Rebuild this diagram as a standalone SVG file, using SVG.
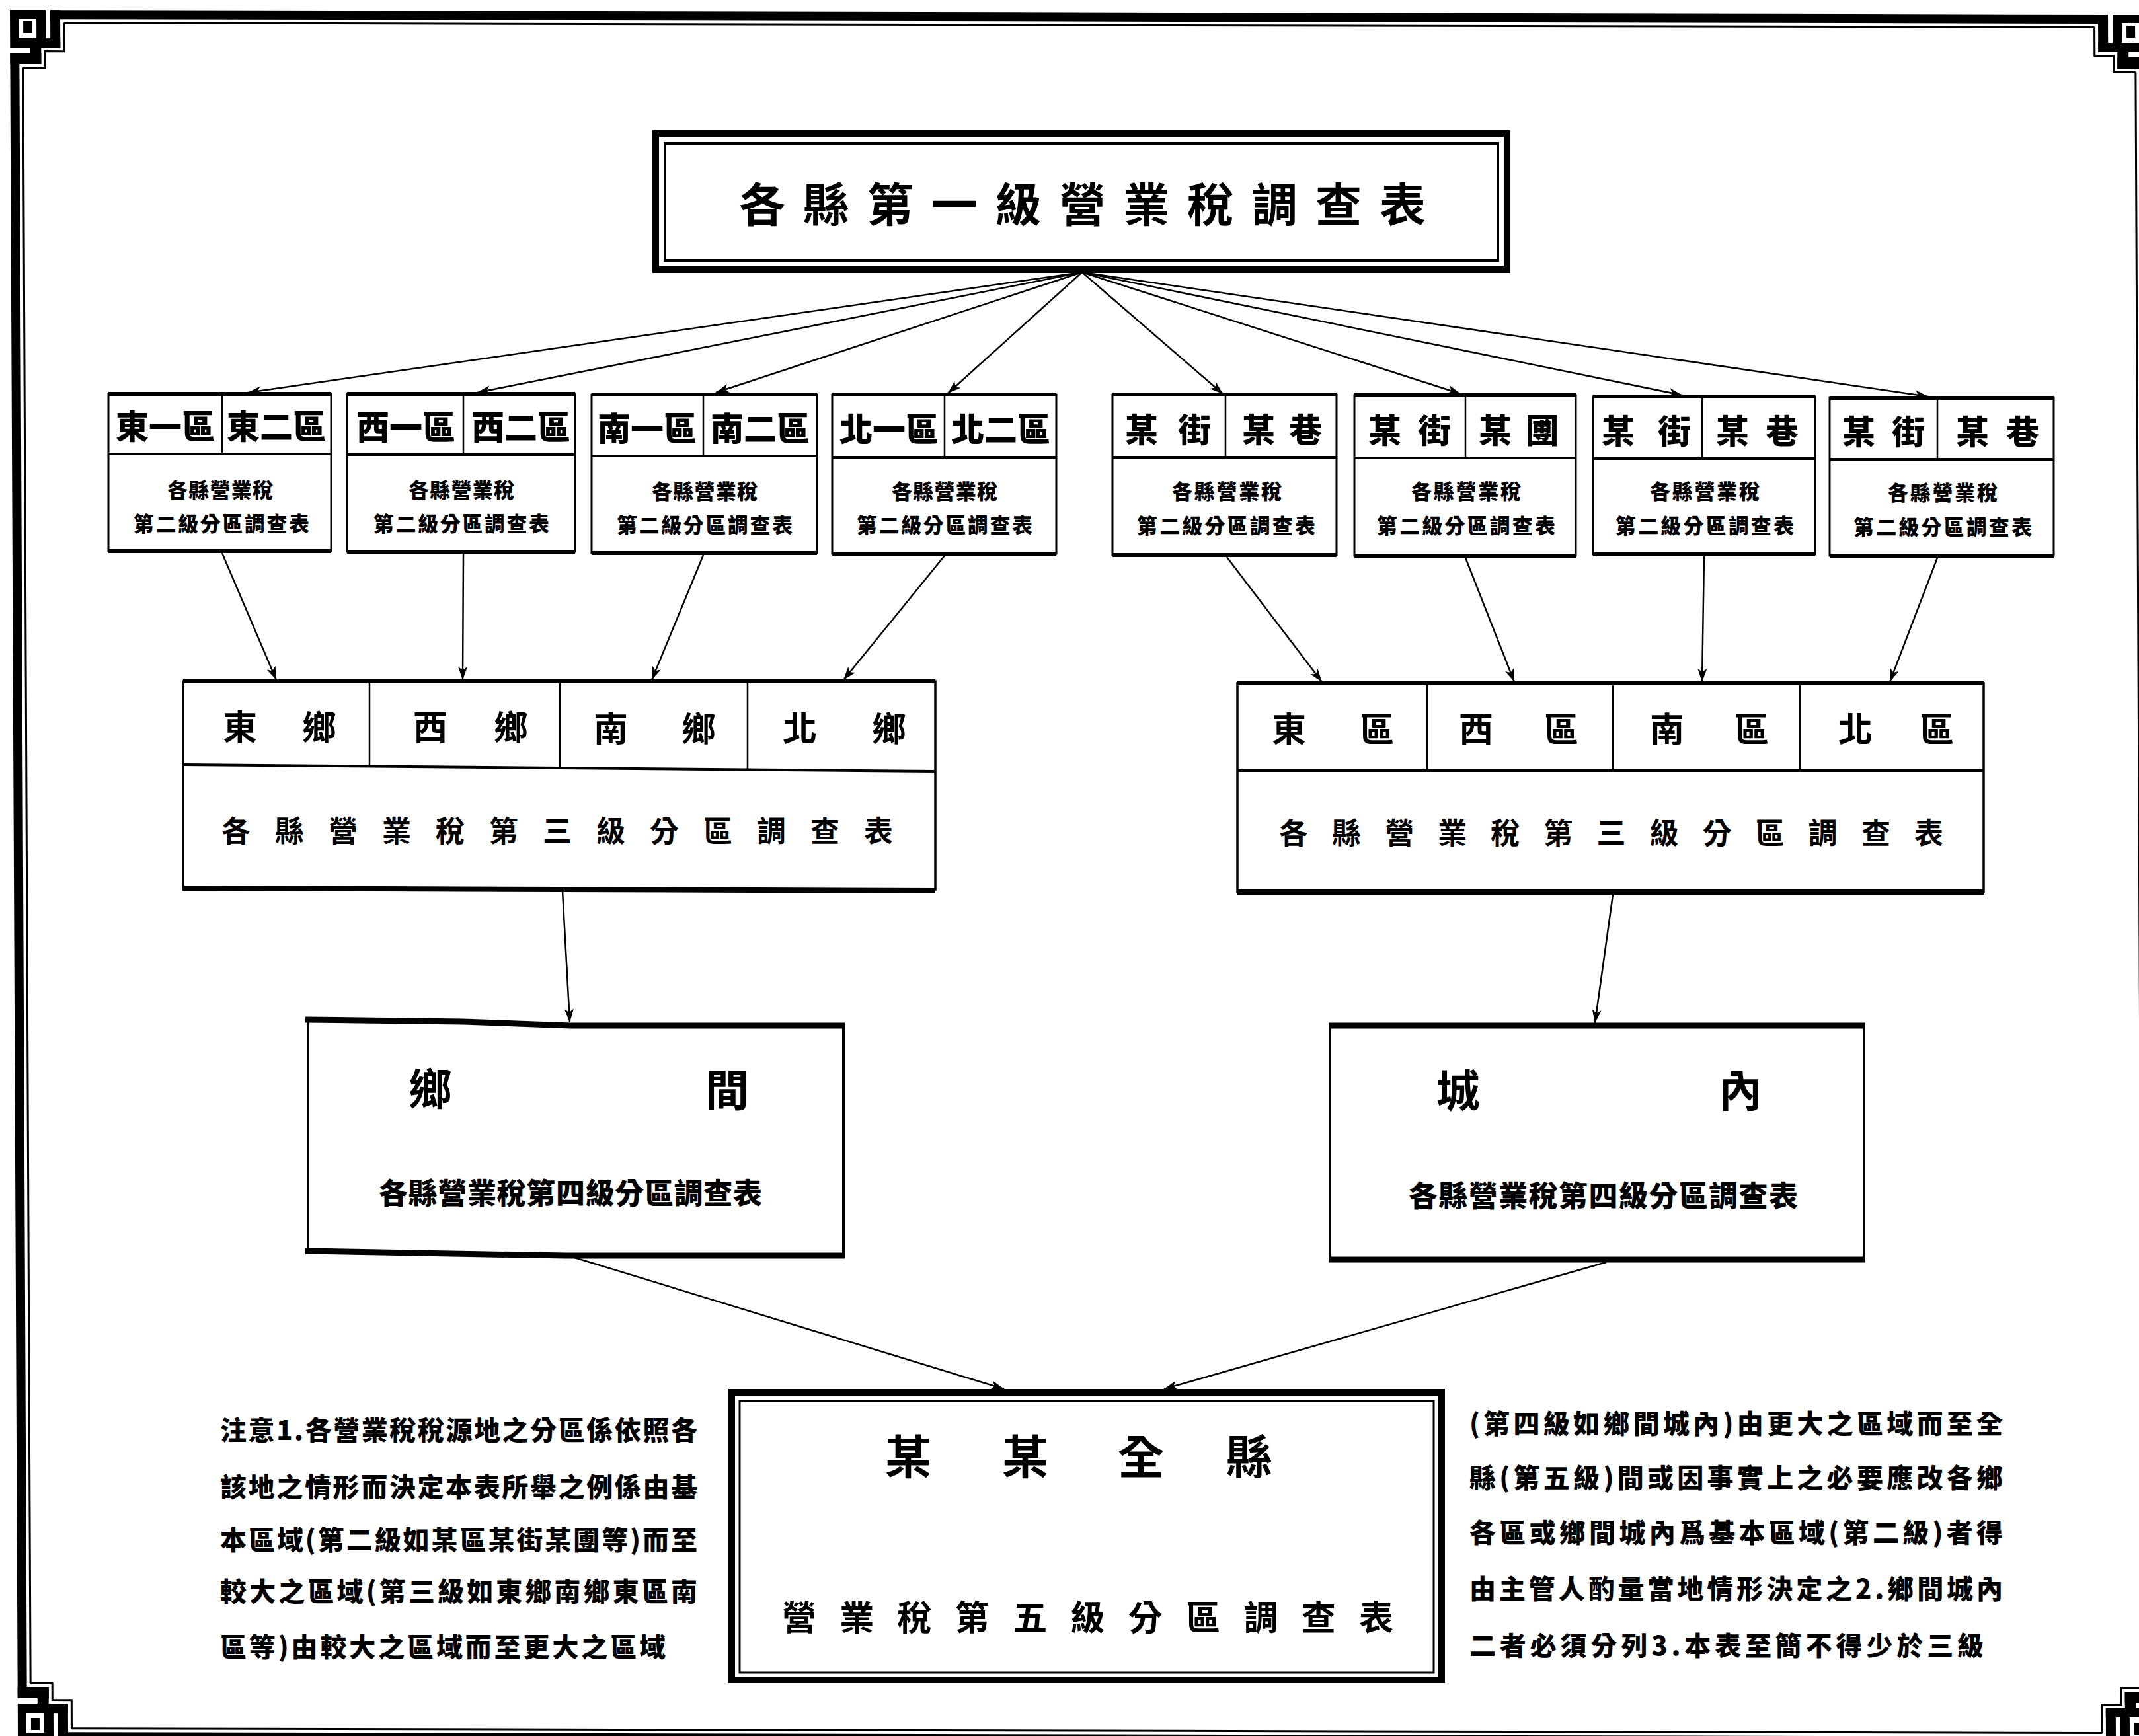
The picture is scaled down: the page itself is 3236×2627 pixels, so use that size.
<svg xmlns="http://www.w3.org/2000/svg" width="3236" height="2627" viewBox="0 0 3236 2627">
<defs>
<style>
.t{font-family:"Noto Sans CJK TC","Noto Sans CJK SC",sans-serif;font-weight:700;fill:#000;dominant-baseline:central}
.h{font-weight:900}
.m{text-anchor:middle}
.bx{fill:none;stroke:#000}
.ln{stroke:#000;fill:none}
.cn{stroke:#000;stroke-width:2.5;fill:none;marker-end:url(#ah)}
</style>
<marker id="ah" markerUnits="userSpaceOnUse" markerWidth="22" markerHeight="14" refX="20" refY="7" orient="auto"><path d="M0,0 L20,7 L0,14 L5,7 Z" fill="#000"/></marker>
<g id="orn">
<path d="M0,0H54V57H0Z M13,13V43H40V13Z" fill-rule="evenodd"/>
<rect x="20" y="17" width="13" height="18"/>
<rect x="30" y="43" width="46" height="14"/>
<rect x="61" y="0" width="15" height="57"/>
<rect x="30" y="57" width="17" height="25"/>
<rect x="0" y="65" width="47" height="17"/>
<path d="M81.5,19.5V62.5H52.5V87.5H19.5" fill="none" stroke="#000" stroke-width="3"/>
</g>
</defs>
<rect width="3236" height="2627" fill="#fff"/>

<g id="frame" transform="matrix(1 0.0022 0.0046 1 15 15)">
<use href="#orn"/>
<use href="#orn" transform="translate(3235,0) scale(-1,1)"/>
<use href="#orn" transform="translate(0,2620) scale(1,-1)"/>
<use href="#orn" transform="translate(3235,2620) scale(-1,-1)"/>
<rect x="61" y="0" width="3113" height="14"/>
<rect x="61" y="2606" width="3113" height="14"/>
<rect x="0" y="65" width="14" height="2490"/>
<rect x="3221" y="65" width="14" height="2490"/>
<path class="ln" stroke-width="3" d="M81.5,19.5H3153.5 M81.5,2600.5H3153.5 M19.5,87.5V2532.5 M3215.5,87.5V2532.5"/>
</g>

<g id="n-title">
<rect class="bx" x="992" y="202" width="1288" height="206" stroke-width="10"/>
<rect class="bx" x="1006" y="217" width="1260" height="177" stroke-width="4"/>
<text class="t" x="1118" y="305" font-size="70" textLength="1039" lengthAdjust="spacing">各縣第一級營業稅調查表</text>
</g>

<g id="n-l2-1">
<rect class="bx" x="164" y="596" width="337" height="238" stroke-width="3"/>
<path class="ln" stroke-width="6" d="M164,596H501 M164,834H501"/>
<path class="ln" stroke-width="4" d="M164,687H501"/>
<path class="ln" stroke-width="2.5" d="M336,596V687"/>
<text class="t h m" x="250" y="642" font-size="50">東一區</text>
<text class="t h m" x="418" y="642" font-size="50">東二區</text>
<text class="t h" x="253" y="739" font-size="31" textLength="160" lengthAdjust="spacing">各縣營業稅</text>
<text class="t h" x="202" y="790" font-size="31" textLength="266" lengthAdjust="spacing">第二級分區調查表</text>
</g>

<g id="n-l2-2">
<rect class="bx" x="525" y="596" width="345" height="239" stroke-width="3"/>
<path class="ln" stroke-width="6" d="M525,596H870 M525,835H870"/>
<path class="ln" stroke-width="4" d="M525,688H870"/>
<path class="ln" stroke-width="2.5" d="M701,596V688"/>
<text class="t h m" x="614" y="643" font-size="50">西一區</text>
<text class="t h m" x="788" y="643" font-size="50">西二區</text>
<text class="t h" x="618" y="739" font-size="31" textLength="160" lengthAdjust="spacing">各縣營業稅</text>
<text class="t h" x="565" y="790" font-size="31" textLength="266" lengthAdjust="spacing">第二級分區調查表</text>
</g>

<g id="n-l2-3">
<rect class="bx" x="895" y="597" width="341" height="240" stroke-width="3"/>
<path class="ln" stroke-width="6" d="M895,597H1236 M895,837H1236"/>
<path class="ln" stroke-width="4" d="M895,690H1236"/>
<path class="ln" stroke-width="2.5" d="M1064,597V690"/>
<text class="t h m" x="979" y="645" font-size="50">南一區</text>
<text class="t h m" x="1150" y="645" font-size="50">南二區</text>
<text class="t h" x="986" y="741" font-size="31" textLength="160" lengthAdjust="spacing">各縣營業稅</text>
<text class="t h" x="933" y="792" font-size="31" textLength="266" lengthAdjust="spacing">第二級分區調查表</text>
</g>

<g id="n-l2-4">
<rect class="bx" x="1259" y="597" width="339" height="241" stroke-width="3"/>
<path class="ln" stroke-width="6" d="M1259,597H1598 M1259,838H1598"/>
<path class="ln" stroke-width="4" d="M1259,692H1598"/>
<path class="ln" stroke-width="2.5" d="M1429,597V692"/>
<text class="t h m" x="1345" y="646" font-size="50">北一區</text>
<text class="t h m" x="1514" y="646" font-size="50">北二區</text>
<text class="t h" x="1349" y="741" font-size="31" textLength="160" lengthAdjust="spacing">各縣營業稅</text>
<text class="t h" x="1296" y="792" font-size="31" textLength="266" lengthAdjust="spacing">第二級分區調查表</text>
</g>

<g id="n-l2-5">
<rect class="bx" x="1683" y="597" width="339" height="243" stroke-width="3"/>
<path class="ln" stroke-width="6" d="M1683,597H2022 M1683,840H2022"/>
<path class="ln" stroke-width="4" d="M1683,692H2022"/>
<path class="ln" stroke-width="2.5" d="M1854,597V692"/>
<text class="t h" x="1702" y="647" font-size="50" textLength="130" lengthAdjust="spacing">某街</text>
<text class="t h" x="1879" y="647" font-size="50" textLength="121" lengthAdjust="spacing">某巷</text>
<text class="t h" x="1773" y="741" font-size="31" textLength="166" lengthAdjust="spacing">各縣營業稅</text>
<text class="t h" x="1720" y="793" font-size="31" textLength="270" lengthAdjust="spacing">第二級分區調查表</text>
</g>

<g id="n-l2-6">
<rect class="bx" x="2049" y="598" width="335" height="243" stroke-width="3"/>
<path class="ln" stroke-width="6" d="M2049,598H2384 M2049,841H2384"/>
<path class="ln" stroke-width="4" d="M2049,693H2384"/>
<path class="ln" stroke-width="2.5" d="M2217,598V693"/>
<text class="t h" x="2070" y="648" font-size="50" textLength="125" lengthAdjust="spacing">某街</text>
<text class="t h" x="2237" y="648" font-size="50" textLength="121" lengthAdjust="spacing">某圑</text>
<text class="t h" x="2135" y="741" font-size="31" textLength="166" lengthAdjust="spacing">各縣營業稅</text>
<text class="t h" x="2083" y="793" font-size="31" textLength="270" lengthAdjust="spacing">第二級分區調查表</text>
</g>

<g id="n-l2-7">
<rect class="bx" x="2410" y="600" width="336" height="239" stroke-width="3"/>
<path class="ln" stroke-width="6" d="M2410,600H2746 M2410,839H2746"/>
<path class="ln" stroke-width="4" d="M2410,694H2746"/>
<path class="ln" stroke-width="2.5" d="M2575,600V694"/>
<text class="t h" x="2423" y="649" font-size="50" textLength="135" lengthAdjust="spacing">某街</text>
<text class="t h" x="2596" y="649" font-size="50" textLength="125" lengthAdjust="spacing">某巷</text>
<text class="t h" x="2496" y="741" font-size="31" textLength="166" lengthAdjust="spacing">各縣營業稅</text>
<text class="t h" x="2444" y="793" font-size="31" textLength="270" lengthAdjust="spacing">第二級分區調查表</text>
</g>

<g id="n-l2-8">
<rect class="bx" x="2768" y="602" width="339" height="239" stroke-width="3"/>
<path class="ln" stroke-width="6" d="M2768,602H3107 M2768,841H3107"/>
<path class="ln" stroke-width="4" d="M2768,695H3107"/>
<path class="ln" stroke-width="2.5" d="M2931,602V695"/>
<text class="t h" x="2787" y="650" font-size="50" textLength="125" lengthAdjust="spacing">某街</text>
<text class="t h" x="2959" y="650" font-size="50" textLength="126" lengthAdjust="spacing">某巷</text>
<text class="t h" x="2856" y="743" font-size="31" textLength="166" lengthAdjust="spacing">各縣營業稅</text>
<text class="t h" x="2804" y="795" font-size="31" textLength="270" lengthAdjust="spacing">第二級分區調查表</text>
</g>

<g id="n-l3-left">
<rect class="bx" x="277" y="1031" width="1138" height="315" stroke-width="3.5"/>
<path class="ln" stroke-width="6" d="M277,1031H1415"/>
<path class="ln" stroke-width="8" d="M277,1344L1415,1348"/>
<path class="ln" stroke-width="4" d="M277,1157L1415,1167"/>
<path class="ln" stroke-width="2.5" d="M559,1031V1160 M847,1031V1162 M1131,1031V1165"/>
<text class="t m" x="363" y="1097" font-size="52">東</text>
<text class="t m" x="483" y="1097" font-size="52">鄉</text>
<text class="t m" x="651" y="1097" font-size="52">西</text>
<text class="t m" x="773" y="1097" font-size="52">鄉</text>
<text class="t m" x="924" y="1099" font-size="52">南</text>
<text class="t m" x="1057" y="1099" font-size="52">鄉</text>
<text class="t m" x="1210" y="1099" font-size="52">北</text>
<text class="t m" x="1345" y="1099" font-size="52">鄉</text>
<text class="t" x="335" y="1255" font-size="44" textLength="1016" lengthAdjust="spacing">各縣營業稅第三級分區調查表</text>
</g>

<g id="n-l3-right">
<rect class="bx" x="1872" y="1034" width="1129" height="316" stroke-width="3.5"/>
<path class="ln" stroke-width="6" d="M1872,1034H3001"/>
<path class="ln" stroke-width="8" d="M1872,1350H3001"/>
<path class="ln" stroke-width="4" d="M1872,1166H3001"/>
<path class="ln" stroke-width="2.5" d="M2159,1034V1166 M2440,1034V1166 M2723,1034V1166"/>
<text class="t m" x="1950" y="1100" font-size="52">東</text>
<text class="t m" x="2083" y="1100" font-size="52">區</text>
<text class="t m" x="2233" y="1100" font-size="52">西</text>
<text class="t m" x="2362" y="1100" font-size="52">區</text>
<text class="t m" x="2522" y="1100" font-size="52">南</text>
<text class="t m" x="2650" y="1100" font-size="52">區</text>
<text class="t m" x="2807" y="1100" font-size="52">北</text>
<text class="t m" x="2930" y="1100" font-size="52">區</text>
<text class="t" x="1935" y="1258" font-size="44" textLength="1005" lengthAdjust="spacing">各縣營業稅第三級分區調查表</text>
</g>

<g id="n-l4-left">
<path class="ln" stroke-width="4" d="M466,1543V1894 M1276,1552V1901"/>
<path class="ln" stroke-width="9" d="M462,1543L700,1546L863,1552H1278"/>
<path class="ln" stroke-width="9" d="M462,1893L855,1900H1278"/>
<text class="t m" x="651" y="1643" font-size="66">鄉</text>
<text class="t m" x="1100" y="1645" font-size="66">間</text>
<text class="t h" x="573" y="1803" font-size="44" textLength="580" lengthAdjust="spacing">各縣營業稅第四級分區調查表</text>
</g>

<g id="n-l4-right">
<rect class="bx" x="2012" y="1552" width="808" height="354" stroke-width="4"/>
<path class="ln" stroke-width="9" d="M2010,1552H2822 M2010,1906H2822"/>
<text class="t m" x="2206" y="1646" font-size="66">城</text>
<text class="t m" x="2633" y="1646" font-size="66">內</text>
<text class="t h" x="2131" y="1807" font-size="44" textLength="589" lengthAdjust="spacing">各縣營業稅第四級分區調查表</text>
</g>

<g id="n-bottom">
<rect class="bx" x="1107" y="2107" width="1074" height="435" stroke-width="10"/>
<rect class="bx" x="1119" y="2120" width="1050" height="411" stroke-width="3"/>
<text class="t m" x="1374" y="2200" font-size="70">某</text>
<text class="t m" x="1551" y="2200" font-size="70">某</text>
<text class="t m" x="1726" y="2200" font-size="70">全</text>
<text class="t m" x="1890" y="2200" font-size="70">縣</text>
<text class="t" x="1183" y="2444" font-size="52" textLength="925" lengthAdjust="spacing">營業稅第五級分區調查表</text>
</g>

<g id="notes-left">
<text class="t h" x="333" y="2162" font-size="40" textLength="722" lengthAdjust="spacing">注意1.各營業稅稅源地之分區係依照各</text>
<text class="t h" x="333" y="2248" font-size="40" textLength="722" lengthAdjust="spacing">該地之情形而決定本表所舉之例係由基</text>
<text class="t h" x="333" y="2328" font-size="40" textLength="722" lengthAdjust="spacing">本區域(第二級如某區某街某圑等)而至</text>
<text class="t h" x="333" y="2406" font-size="40" textLength="722" lengthAdjust="spacing">較大之區域(第三級如東鄉南鄉東區南</text>
<text class="t h" x="333" y="2490" font-size="40" textLength="674" lengthAdjust="spacing">區等)由較大之區域而至更大之區域</text>
</g>

<g id="notes-right">
<text class="t h" x="2223" y="2152" font-size="40" textLength="807" lengthAdjust="spacing">(第四級如鄉間城內)由更大之區域而至全</text>
<text class="t h" x="2223" y="2234" font-size="40" textLength="807" lengthAdjust="spacing">縣(第五級)間或因事實上之必要應改各鄉</text>
<text class="t h" x="2223" y="2317" font-size="40" textLength="807" lengthAdjust="spacing">各區或鄉間城內爲基本區域(第二級)者得</text>
<text class="t h" x="2223" y="2402" font-size="40" textLength="807" lengthAdjust="spacing">由主管人酌量當地情形決定之2.鄉間城內</text>
<text class="t h" x="2223" y="2488" font-size="40" textLength="778" lengthAdjust="spacing">二者必須分列3.本表至簡不得少於三級</text>
</g>

<g id="connectors">
<path class="cn" d="M1637,412L375,594"/>
<path class="cn" d="M1637,412L722,594"/>
<path class="cn" d="M1637,412L1083,594"/>
<path class="cn" d="M1637,412L1434,595"/>
<path class="cn" d="M1637,412L1850,596"/>
<path class="cn" d="M1637,412L2210,596"/>
<path class="cn" d="M1637,412L2545,598"/>
<path class="cn" d="M1637,412L2917,600"/>
<path class="cn" d="M336,837L418,1029"/>
<path class="cn" d="M701,838L700,1029"/>
<path class="cn" d="M1064,840L986,1029"/>
<path class="cn" d="M1429,841L1276,1029"/>
<path class="cn" d="M1856,843L2000,1032"/>
<path class="cn" d="M2217,844L2291,1032"/>
<path class="cn" d="M2578,842L2575,1032"/>
<path class="cn" d="M2931,844L2859,1032"/>
<path class="cn" d="M851,1349L862,1547"/>
<path class="cn" d="M2440,1354L2413,1548"/>
<path class="cn" d="M866,1902L1519,2102"/>
<path class="cn" d="M2430,1910L1761,2102"/>
</g>
</svg>
